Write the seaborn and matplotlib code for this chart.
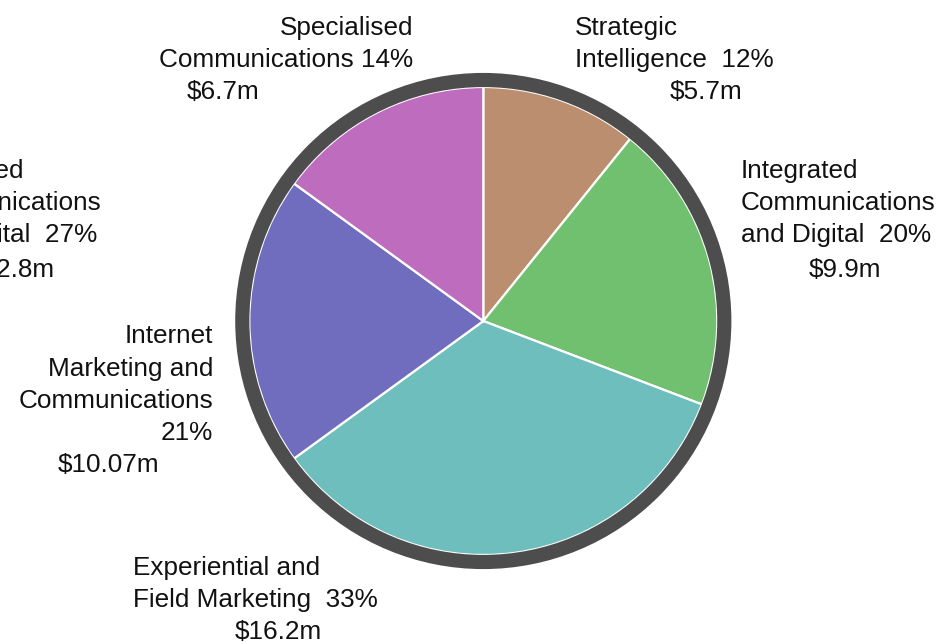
import matplotlib
matplotlib.use("Agg")
import matplotlib.pyplot as plt
import seaborn as sns
from matplotlib.patches import Circle

sns.set_theme(style="white")
plt.rcParams['font.family'] = ['Liberation Sans', 'DejaVu Sans']

# Data (clockwise from 12 o'clock)
categories = ["Strategic Intelligence", "Integrated Communications and Digital",
              "Experiential and Field Marketing", "Internet Marketing and Communications",
              "Specialised Communications"]
label_pcts = ["12%", "20%", "33%", "21%", "14%"]
label_values = ["$5.7m", "$9.9m", "$16.2m", "$10.07m", "$6.7m"]
# slice shares as drawn in the picture (percent of the circle)
slice_shares = [10.8, 20.0, 34.2, 20.0, 15.0]
colors = ["#BB8E70", "#70C070", "#6FBEBE", "#716DBE", "#BE6CBE"]

W, H = 944, 643
fig = plt.figure(figsize=(W / 100, H / 100), dpi=100)
ax = fig.add_axes([0, 0, 1, 1])

cx, cy = 483.3, H - 321
r_in = 234
ax.pie(slice_shares, colors=colors, startangle=90, counterclock=False,
       center=(cx, cy), radius=r_in,
       wedgeprops=dict(edgecolor="white", linewidth=1.6))
ax.add_patch(Circle((cx, cy), 241, fill=False, edgecolor="#4D4D4D", linewidth=10.2, zorder=5))

ax.set_xlim(0, W)
ax.set_ylim(0, H)
ax.set_aspect('auto')
ax.axis('off')

fs = 18.8

def line(x, y, s, ha='left'):
    ax.text(x, H - y, s, ha=ha, va='baseline', fontsize=fs, color='#111111')

# Specialised Communications
line(413, 35, "Specialised", 'right')
line(413, 67, "Communications " + label_pcts[4], 'right')
line(223, 99, label_values[4], 'center')

# Strategic Intelligence
line(575, 35, "Strategic")
line(575, 67, "Intelligence  " + label_pcts[0])
line(706, 99, label_values[0], 'center')

# Integrated Communications and Digital
line(741, 178, "Integrated")
line(741, 210, "Communications")
line(741, 242, "and Digital  " + label_pcts[1])
line(845, 277, label_values[1], 'center')

# Cropped label from neighbouring chart on the left
line(-93, 178, "Integrated")
line(-93, 210, "Communications")
line(-93, 242, "and Digital  27%")
line(11, 277, "$12.8m", 'center')

# Internet Marketing and Communications
line(213, 343, "Internet", 'right')
line(213, 376, "Marketing and", 'right')
line(213, 408, "Communications", 'right')
line(213, 440, label_pcts[3], 'right')
line(108, 472, label_values[3], 'center')

# Experiential and Field Marketing
line(133, 575, "Experiential and")
line(133, 607, "Field Marketing  " + label_pcts[2])
line(278, 639, label_values[2], 'center')

fig.savefig("out.png", dpi=100)
